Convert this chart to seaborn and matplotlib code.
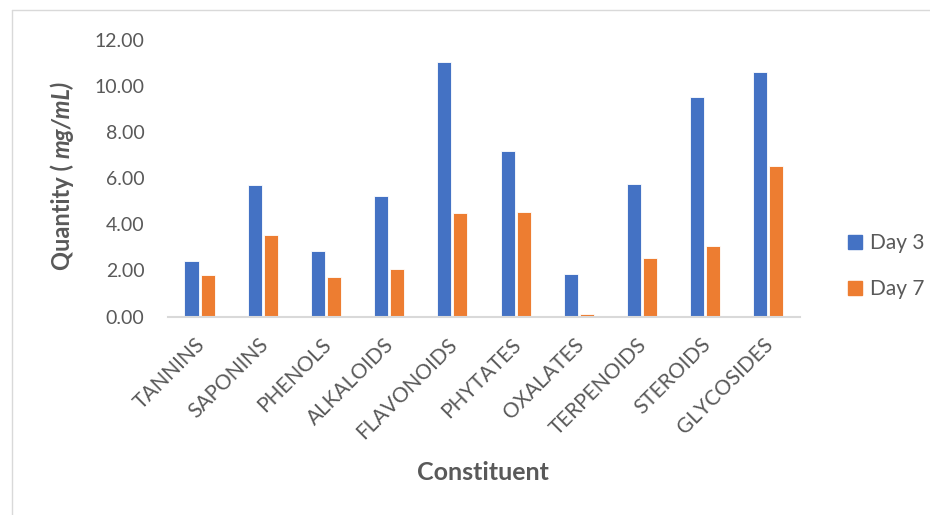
import pandas as pd
import matplotlib
matplotlib.use('Agg')
import matplotlib.pyplot as plt
import matplotlib.transforms as mtransforms
import seaborn as sns
from matplotlib.lines import Line2D

# Données
constituents = ['TANNINS', 'SAPONINS', 'PHENOLS', 'ALKALOIDS', 'FLAVONOIDS',
                'PHYTATES', 'OXALATES', 'TERPENOIDS', 'STEROIDS', 'GLYCOSIDES']
day3 = [2.41, 5.73, 2.86, 5.25, 11.05, 7.17, 1.84, 5.77, 9.52, 10.60]
day7 = [1.82, 3.53, 1.72, 2.05, 4.51, 4.53, 0.10, 2.52, 3.06, 6.55]
series = ['Day 3', 'Day 7']
colors = ['#4472C4', '#ED7D31']

df = pd.DataFrame({
    'Constituent': constituents * 2,
    'Quantity': day3 + day7,
    'Day': [series[0]] * len(day3) + [series[1]] * len(day7),
})

sns.set_theme(style='white')
plt.rcParams['font.family'] = ['Lato', 'DejaVu Sans']
grey = '#595959'

fig = plt.figure(figsize=(9.3, 5.15), dpi=100)
ax = fig.add_axes([0.1806, 0.3854, 0.6796, 0.5366])

sns.barplot(data=df, x='Constituent', y='Quantity', hue='Day',
            palette=colors, saturation=1, width=0.51, gap=0.13, ax=ax,
            edgecolor='white', linewidth=0.6, legend=False)

ax.set_ylim(0, 12)
ax.set_yticks(range(0, 13, 2))
ax.set_yticklabels([f'{v:.2f}' for v in range(0, 13, 2)], fontsize=14, color=grey)
ax.set_xlim(-0.5, len(constituents) - 0.5)
ax.set_xticks(range(len(constituents)))
ax.set_xticklabels(constituents, rotation=45, ha='right', rotation_mode='anchor',
                   fontsize=15, color=grey)
ax.tick_params(axis='y', length=0, pad=17)
ax.tick_params(axis='x', length=0, pad=13)
# petit décalage à gauche des étiquettes x
offset = mtransforms.ScaledTranslation(-5 / 100, 0, fig.dpi_scale_trans)
for lbl in ax.get_xticklabels():
    lbl.set_transform(lbl.get_transform() + offset)
for s in ['top', 'right', 'left']:
    ax.spines[s].set_visible(False)
ax.spines['bottom'].set_color('#D9D9D9')
ax.spines['bottom'].set_linewidth(1.5)
ax.set_xlabel('')
ax.set_ylabel('')

# Titre axe x
fig.text(483 / 930, 1 - 473 / 515, 'Constituent', fontsize=18, fontweight='bold',
         color=grey, ha='center', va='center')

# Titre axe y (partie italique)
fig.canvas.draw()
renderer = fig.canvas.get_renderer()
t1 = fig.text(62 / 930, 1 - 270 / 515, 'Quantity ( ', fontsize=17, fontweight='bold',
              color=grey, rotation=90, ha='center', va='bottom')
ext = t1.get_window_extent(renderer)
y2 = ext.y1 / fig.bbox.height
fig.text(62 / 930, y2, 'mg/mL)', fontsize=17, fontweight='bold', style='italic',
         color=grey, rotation=90, ha='center', va='bottom')

# Légende
handles = [Line2D([0], [0], marker='s', linestyle='', markersize=10.5,
                  markerfacecolor=c, markeredgecolor=c) for c in colors]
fig.legend(handles, series, loc='center left', bbox_to_anchor=(824 / 930, 1 - 266 / 515),
           frameon=False, fontsize=15, labelcolor=grey, labelspacing=1.25,
           handletextpad=0.1, handlelength=1.2)

# Cadre
fig.add_artist(Line2D([12 / 930, 12 / 930], [0, 1 - 10 / 515], color='#D9D9D9', lw=1,
                      transform=fig.transFigure))
fig.add_artist(Line2D([12 / 930, 1], [1 - 10 / 515, 1 - 10 / 515], color='#D9D9D9', lw=1,
                      transform=fig.transFigure))

fig.savefig('out.png', dpi=100)
